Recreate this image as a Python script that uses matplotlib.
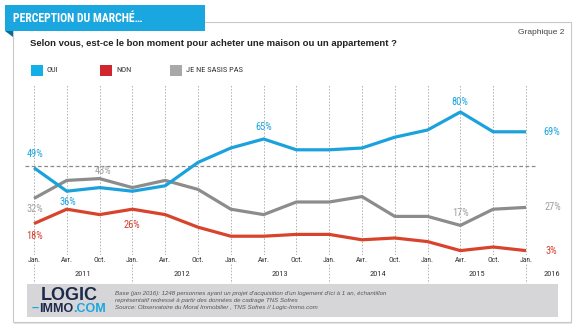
import matplotlib
matplotlib.use("Agg")
import matplotlib.pyplot as plt
from matplotlib import font_manager as fm
from matplotlib.patches import Rectangle, Polygon

W, H = 574, 332

# survey waves: Jan / Avr / Oct each year, last one Jan 2016
months = ["Jan.", "Avr.", "Oct."] * 5 + ["Jan."]
years = ["2011", "2012", "2013", "2014", "2015", "2016"]

oui = [49, 36, 38, 36, 39, 52, 60, 65, 59, 59, 60, 66, 70, 80, 69, 69]
non = [18, 26, 23, 26, 23, 16, 11, 11, 12, 12, 9, 10, 8, 3, 5, 3]
nsp = [32, 42, 43, 38, 42, 37, 26, 23, 30, 30, 33, 22, 22, 17, 26, 27]

series_names = ["OUI", "NON", "JE NE SASIS PAS"]

BLUE = "#1ba2dd"
RED = "#d8432c"
GREY = "#8c8c8c"

# condensed face if one is installed
_names = {f.name for f in fm.fontManager.ttflist}
_cond = [n for n in ("Liberation Sans Narrow", "Roboto Condensed",
                     "DejaVu Sans Condensed", "Open Sans Condensed") if n in _names]
COND = [_cond[0], "Liberation Sans"] if _cond else ["Liberation Sans"]
SANS = ["Liberation Sans", "DejaVu Sans"]


def fx(x):
    return x / W


def fy(y):
    return 1 - y / H


fig = plt.figure(figsize=(W / 100, H / 100), dpi=100)
fig.patch.set_facecolor("white")

# card with soft shadow (behind the axes)
fig.patches.append(Rectangle((fx(14), fy(324)), fx(558), 302 / H, transform=fig.transFigure,
                             facecolor="#e6e6e6", edgecolor="none", zorder=-2))
fig.patches.append(Rectangle((fx(13), fy(322)), fx(558), 300 / H, transform=fig.transFigure,
                             facecolor="white", edgecolor="#c8c8c8", lw=0.8, zorder=-1))

# title banner
fig.patches.append(Rectangle((fx(5), fy(31)), fx(200), 26 / H, transform=fig.transFigure,
                             facecolor="#1aa6df", edgecolor="none", zorder=1))
fig.patches.append(Polygon([(fx(5), fy(31)), (fx(13), fy(31)), (fx(13), fy(37))],
                           closed=True, transform=fig.transFigure,
                           facecolor="#0e6a96", edgecolor="none", zorder=1))
fig.text(fx(13), fy(18), "PERCEPTION DU MARCHÉ…", color="white", fontsize=8.5,
         fontweight="bold", family=COND, va="center", ha="left", zorder=2)

fig.text(fx(30), fy(44), "Selon vous, est-ce le bon moment pour acheter une maison ou un appartement ?",
         fontsize=6.8, fontweight="bold", family=SANS, color="#222222", va="center")
fig.text(fx(564), fy(32), "Graphique 2", fontsize=6, family=SANS, color="#444444",
         va="center", ha="right")

# legend
leg_x = [31, 100, 170]
leg_col = ["#13b0e8", "#d2262e", "#a8a8aa"]
for lx, name, col in zip(leg_x, series_names, leg_col):
    fig.patches.append(Rectangle((fx(lx), fy(76)), fx(12), 11 / H, transform=fig.transFigure,
                                 facecolor=col, edgecolor="none"))
    fig.text(fx(lx + 16), fy(70.5), name, fontsize=6, family=COND, color="#333333", va="center")

# footer
fig.patches.append(Rectangle((fx(27), fy(317)), fx(531), 33 / H, transform=fig.transFigure,
                             facecolor="#d6d6d9", edgecolor="none"))
fig.text(fx(69), fy(295), "LOGIC", fontsize=13, fontweight="bold", family=SANS,
         color="#1e2a4c", ha="center", va="center")
t1 = fig.text(fx(32), fy(308), "–", fontsize=9, fontweight="bold", family=SANS,
              color="#1aa6df", va="center")
t2 = fig.text(0, 0, "IMMO", fontsize=9, fontweight="bold", family=SANS, color="#1e2a4c")
t3 = fig.text(0, 0, ".COM", fontsize=9, fontweight="bold", family=SANS, color="#1aa6df")
foot = ["Base (jan 2016): 1248 personnes ayant un projet d'acquisition d'un logement d'ici à 1 an, échantillon",
        "représentatif redressé à partir des données de cadrage TNS Sofres",
        "Source: Observatoire du Moral Immobilier , TNS Sofres // Logic-Immo.com"]
for i, line in enumerate(foot):
    fig.text(fx(115), fy(293 + 7.3 * i), line, fontsize=4.4, style="italic", family=SANS,
             color="#555555", va="center")

# plot area: index -> pixel 34 + 32.8*i ; value -> pixel 256 - 1.8*v
X0, DX = 34, 32.8
Y0, K = 256, 1.8
L, R, T, B = 20, 560, 85, 255
ax = fig.add_axes([fx(L), fy(B), (R - L) / W, (B - T) / H])
ax.set_xlim((L - X0) / DX, (R - X0) / DX)
ax.set_ylim((Y0 - B) / K, (Y0 - T) / K)
ax.patch.set_alpha(0)
for s in ax.spines.values():
    s.set_visible(False)
ax.set_yticks([])

idx = list(range(len(months)))
ax.set_xticks(idx, months)
ax.tick_params(axis="x", length=0, pad=1.5, labelsize=5.5, labelcolor="#333333")
for lab in ax.get_xticklabels():
    lab.set_family(COND)
ax.xaxis.grid(True, color="#b4b4b4", lw=0.7, ls=(0, (1.6, 1.6)))

# year separators and labels
jan_idx = [i for i, m in enumerate(months) if m == "Jan."]
ax.vlines(jan_idx, -0.055, -0.165, transform=ax.get_xaxis_transform(), clip_on=False,
          color="#b4b4b4", lw=0.7, ls=(0, (1.6, 1.6)))
year_pos = [a + (b - a) / 2 for a, b in zip(jan_idx[:-1], jan_idx[1:])] + [jan_idx[-1] + 0.8]
for xp, yr in zip(year_pos, years):
    ax.text(xp, -0.112, yr, transform=ax.get_xaxis_transform(), ha="center", va="center",
            fontsize=6, family=COND, color="#333333")

ax.hlines(50, -0.27, 15.3, color="#8a8a8a", lw=0.9, ls=(0, (3, 2)))

ax.plot(idx, non, color=RED, lw=2.3, solid_capstyle="butt", zorder=3)
ax.plot(idx, nsp, color=GREY, lw=2.3, solid_capstyle="butt", zorder=4)
ax.plot(idx, oui, color=BLUE, lw=2.3, solid_capstyle="butt", zorder=5)

# value labels: (series, wave, offset in pixels, alignment)
labels = [
    (oui, 0, (1, 14), "center"), (oui, 1, (1, -11), "center"), (oui, 7, (0, 12), "center"),
    (oui, 13, (-1, 10), "center"), (oui, 15, (17, 0), "left"),
    (nsp, 0, (1, -11), "center"), (nsp, 2, (3, 8), "center"), (nsp, 13, (0, 12), "center"),
    (nsp, 15, (19, 0), "left"),
    (non, 0, (1, -12), "center"), (non, 3, (0, -16), "center"), (non, 15, (19, 0), "left"),
]
colors = {id(oui): "#1ba4de", id(nsp): "#a0a0a0", id(non): "#d3402e"}
for ser, i, off, ha in labels:
    ax.annotate(f"{ser[i]}%", (i, ser[i]), xytext=off, textcoords="offset pixels",
                ha=ha, va="center", fontsize=7.5, family=COND, color=colors[id(ser)], zorder=6)

fig.canvas.draw()
ren = fig.canvas.get_renderer()
bb1 = t1.get_window_extent(ren)
t2.set_position((bb1.x1 / W, fy(309.5)))
t2.set_va("center")
bb2 = t2.get_window_extent(ren)
t3.set_position((bb2.x1 / W, fy(309.5)))
t3.set_va("center")

fig.savefig("out.png", dpi=100)
